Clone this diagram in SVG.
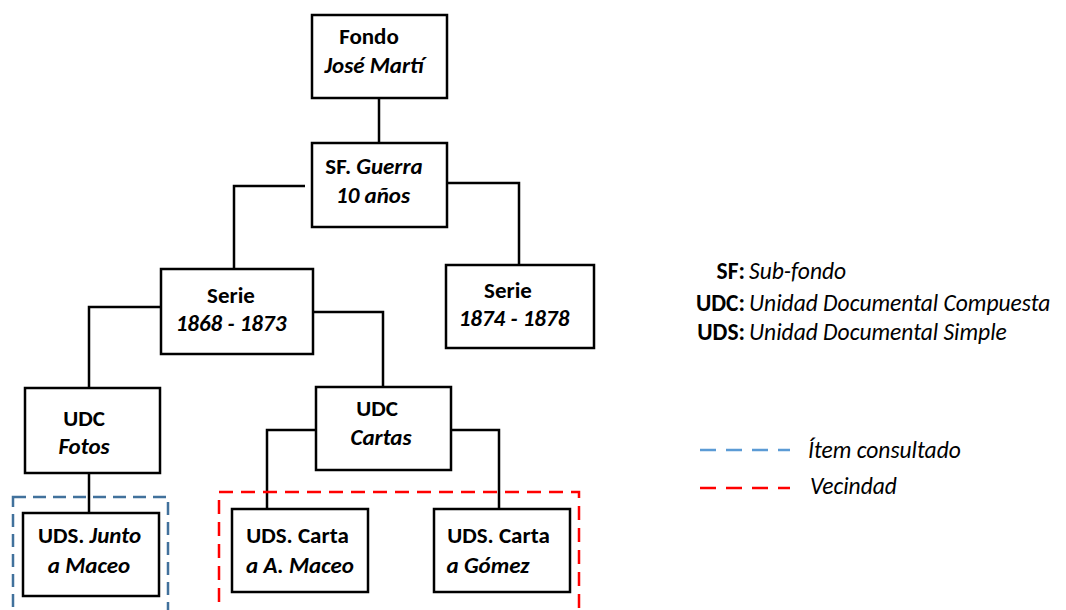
<svg xmlns="http://www.w3.org/2000/svg" width="1066" height="610" viewBox="0 0 1066 610">
<style>
.box{fill:#fff;stroke:#000;stroke-width:2.5}
.con{fill:none;stroke:#000;stroke-width:2.5}
text{font-family:Carlito,Lato,"Liberation Sans",sans-serif;font-size:23px;fill:#000}
.n{font-weight:bold;text-anchor:middle}
.i{font-style:italic}
.lg{font-size:23.5px}
</style>
<rect width="1066" height="610" fill="#fff"/>
<g id="connectors">
<path class="con" d="M379 98V143"/>
<path class="con" d="M305 186H234V269"/>
<path class="con" d="M447 183H519V265"/>
<path class="con" d="M161 307H89V388"/>
<path class="con" d="M313 312H383V387"/>
<path class="con" d="M89 473V513"/>
<path class="con" d="M316 430H267V509"/>
<path class="con" d="M451 430H499V509"/>
</g>
<g id="fondo"><rect class="box" x="312" y="15" width="135" height="83"/>
<text class="n" x="369" y="44">Fondo</text><text class="n i" x="374" y="73">José Martí</text></g>
<g id="subfondo"><rect class="box" x="312" y="143" width="135" height="84"/>
<text class="n" x="374" y="174">SF. <tspan class="i">Guerra</tspan></text><text class="n i" x="373" y="203">10 años</text></g>
<g id="serie1868"><rect class="box" x="161" y="269" width="152" height="85"/>
<text class="n" x="231" y="303">Serie</text><text class="n i" x="231" y="331">1868 - 1873</text></g>
<g id="serie1874"><rect class="box" x="446" y="265" width="148" height="83"/>
<text class="n" x="508" y="298">Serie</text><text class="n i" x="514" y="326">1874 - 1878</text></g>
<g id="udcFotos"><rect class="box" x="25" y="388" width="135" height="85"/>
<text class="n" x="84" y="426">UDC</text><text class="n i" x="84" y="454">Fotos</text></g>
<g id="udcCartas"><rect class="box" x="316" y="387" width="135" height="83"/>
<text class="n" x="377" y="416">UDC</text><text class="n i" x="381" y="445">Cartas</text></g>
<g id="udsJunto"><rect class="box" x="23" y="513" width="136" height="83"/>
<text class="n" x="89.5" y="543">UDS. <tspan class="i">Junto</tspan></text><text class="n i" x="89" y="573">a Maceo</text></g>
<g id="udsMaceo"><rect class="box" x="232" y="509" width="136" height="83"/>
<text class="n" x="297.5" y="543">UDS. Carta</text><text class="n i" x="300" y="573">a A. Maceo</text></g>
<g id="udsGomez"><rect class="box" x="434" y="509" width="136" height="83"/>
<text class="n" x="498.5" y="543">UDS. Carta</text><text class="n i" x="488" y="573">a Gómez</text></g>
<g id="itemConsultado"><rect x="13" y="497" width="155" height="130" fill="none" stroke="#41719c" stroke-width="2.5" stroke-dasharray="13 7"/></g>
<g id="vecindad"><rect x="219" y="492" width="360" height="135" fill="none" stroke="#ff0000" stroke-width="2.5" stroke-dasharray="14 8"/></g>
<g id="legend">
<text class="lg" x="745" y="279" text-anchor="end" font-weight="bold">SF:</text><text class="lg i" x="749" y="279">Sub-fondo</text>
<text class="lg" x="745" y="311" text-anchor="end" font-weight="bold">UDC:</text><text class="lg i" x="749" y="311">Unidad Documental Compuesta</text>
<text class="lg" x="745" y="340" text-anchor="end" font-weight="bold">UDS:</text><text class="lg i" x="749" y="340">Unidad Documental Simple</text>
<path d="M700 450H790" stroke="#5b9bd5" stroke-width="2.5" stroke-dasharray="16 10"/>
<text class="lg i" x="808" y="458">Ítem consultado</text>
<path d="M700 488H790" stroke="#ff0000" stroke-width="2.5" stroke-dasharray="16 10"/>
<text class="lg i" x="810" y="494">Vecindad</text>
</g>
</svg>
